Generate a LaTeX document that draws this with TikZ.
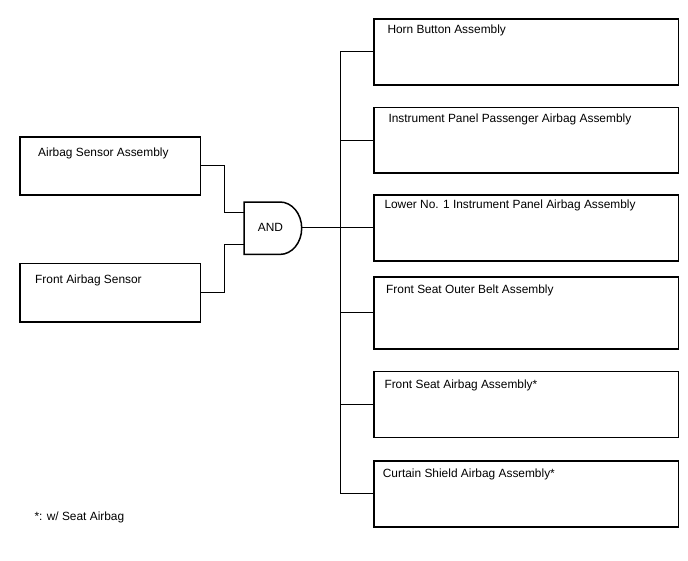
\documentclass[tikz,border=0pt]{standalone}
\usepackage{fontspec}
\setmainfont{Liberation Sans}
\begin{document}
\begin{tikzpicture}[x=1pt,y=-1pt,
  box/.style={draw=black,line width=1.5pt,rectangle,inner sep=0pt,anchor=north west},
  lbl/.style={anchor=base west,inner sep=0pt,font=\fontsize{11.9}{14}\selectfont},
  wire/.style={draw=black,line width=0.9pt},
  gateshape/.style={draw=black,line width=1.5pt,fill=white}]
\useasboundingbox (0,0) rectangle (688,560);
% left boxes
\node[box,minimum width=180.5pt,minimum height=58pt] (b1) at (19,136) {};
\node[box,minimum width=180.5pt,minimum height=58.3pt] (b2) at (19,262.7) {};
\node[lbl] (t1) at (38,156) {Airbag Sensor Assembly};
\node[lbl] (t2) at (35,283.6) {Front Airbag Sensor};
% right boxes
\node[box,minimum width=304.4pt,minimum height=65.7pt] (r1) at (373.3,18.3) {};
\node[box,minimum width=304.4pt,minimum height=65.6pt] (r2) at (373.3,106.7) {};
\node[box,minimum width=304.4pt,minimum height=66pt] (r3) at (373.3,194) {};
\node[box,minimum width=304.4pt,minimum height=72.3pt] (r4) at (373.3,276) {};
\node[box,minimum width=304.4pt,minimum height=66pt] (r5) at (373.3,370.7) {};
\node[box,minimum width=304.4pt,minimum height=66pt] (r6) at (373.3,460) {};
\node[lbl] (s1) at (387.3,33.6) {Horn Button Assembly};
\node[lbl] (s2) at (388.3,122.6) {Instrument Panel Passenger Airbag Assembly};
\node[lbl] (s3) at (384.3,208.6) {Lower No. 1 Instrument Panel Airbag Assembly};
\node[lbl] (s4) at (386,293.6) {Front Seat Outer Belt Assembly};
\node[lbl] (s5) at (384.3,388.3) {Front Seat Airbag Assembly*};
\node[lbl] (s6) at (382.7,477.6) {Curtain Shield Airbag Assembly*};
% AND gate
\coordinate (in1) at (244,212.7);
\coordinate (in2) at (244,244.3);
\coordinate (gout) at (301.7,227.3);
\coordinate (bus) at (340,227.3);
\path[gateshape] (244,202) -- (280,202) arc[start angle=-90,end angle=90,x radius=21.7,y radius=26.2] -- (244,254.4) -- cycle;
\node[inner sep=0pt,font=\fontsize{11.9}{14}\selectfont] (andtxt) at (270.5,227.3) {AND};
% wires
\draw[wire] (b1.east) -- ++(23.7,0) |- (in1);
\draw[wire] (b2.east) -- ++(23.7,0) |- (in2);
\draw[wire] (gout) -- (bus);
\draw[wire] (bus |- r1.west) -- (bus |- r6.west);
\foreach \r in {r1,r2,r3,r4,r5,r6}{\draw[wire] (bus |- \r.west) -- (\r.west);}
% footnote
\node[lbl] (foot) at (34.3,520.3) {*: w/ Seat Airbag};
\end{tikzpicture}
\end{document}
